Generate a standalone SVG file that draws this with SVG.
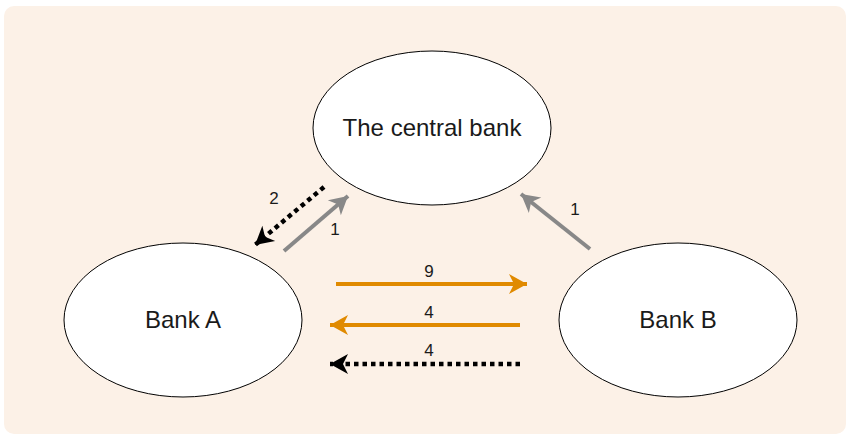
<svg xmlns="http://www.w3.org/2000/svg" width="847" height="435" viewBox="0 0 847 435">
  <style>
    .node ellipse { fill: #ffffff; stroke: #000000; stroke-width: 1; }
    .node text { font-family: "Liberation Sans", Arial, sans-serif; font-size: 24px; fill: #1a1a1a; text-anchor: middle; dominant-baseline: central; }
    .lbl { font-family: "Liberation Sans", Arial, sans-serif; font-size: 17px; fill: #1a1a1a; text-anchor: middle; }
    .gray { stroke: #888888; stroke-width: 4; fill: none; marker-end: url(#ahGray); }
    .orange { stroke: #E08A00; stroke-width: 4; fill: none; marker-end: url(#ahOrange); }
    .dotted { stroke: #000000; stroke-width: 4.5; fill: none; stroke-dasharray: 4.5 4; marker-end: url(#ahBlack); }
  </style>
  <defs>
    <marker id="ahGray" markerUnits="userSpaceOnUse" viewBox="-19 -11 20 22" refX="0" refY="0" markerWidth="20" markerHeight="22" orient="auto">
      <path d="M0,0 L-18,-10 L-13,0 L-18,10 Z" fill="#888888"/>
    </marker>
    <marker id="ahOrange" markerUnits="userSpaceOnUse" viewBox="-19 -11 20 22" refX="0" refY="0" markerWidth="20" markerHeight="22" orient="auto">
      <path d="M0,0 L-18,-10 L-13,0 L-18,10 Z" fill="#E08A00"/>
    </marker>
    <marker id="ahBlack" markerUnits="userSpaceOnUse" viewBox="-19 -11 20 22" refX="0" refY="0" markerWidth="20" markerHeight="22" orient="auto">
      <path d="M0,0 L-18,-10 L-13,0 L-18,10 Z" fill="#000000"/>
    </marker>
  </defs>
  <rect x="4" y="6" width="842" height="428" rx="10" fill="#FCF1E7"/>
  <g id="central-bank" class="node">
    <ellipse cx="432" cy="128" rx="119" ry="77"/>
    <text x="432" y="127">The central bank</text>
  </g>
  <g id="bank-a" class="node">
    <ellipse cx="183" cy="320" rx="119" ry="77"/>
    <text x="183" y="319">Bank A</text>
  </g>
  <g id="bank-b" class="node">
    <ellipse cx="678" cy="320" rx="119" ry="77"/>
    <text x="678" y="319">Bank B</text>
  </g>
  <g id="connectors">
    <path class="gray" d="M284,251 L348,196"/>
    <path class="dotted" d="M324,187 L255,245"/>
    <path class="gray" d="M590,249 L521,194"/>
    <path class="orange" d="M336,284 L527,284"/>
    <path class="orange" d="M520,325 L330,325"/>
    <path class="dotted" d="M520,364 L330,364"/>
    <text class="lbl" x="274" y="204">2</text>
    <text class="lbl" x="335" y="235">1</text>
    <text class="lbl" x="575" y="215">1</text>
    <text class="lbl" x="429" y="277">9</text>
    <text class="lbl" x="429" y="318">4</text>
    <text class="lbl" x="429" y="356">4</text>
  </g>
</svg>
